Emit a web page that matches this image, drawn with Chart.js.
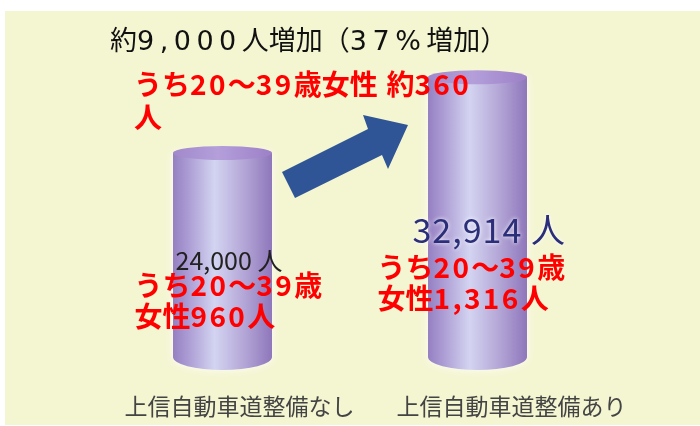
<!DOCTYPE html>
<html>
<head>
<meta charset="utf-8">
<script src="https://cdn.jsdelivr.net/npm/chart.js@4.4.1/dist/chart.umd.min.js"></script>
<style>
  html, body { margin: 0; padding: 0; background: #fff; }
  #wrap { width: 700px; height: 426px; }
</style>
</head>
<body>
<div id="wrap"><canvas id="popChart" width="700" height="426"></canvas></div>
<script>
// values
const categories = ["上信自動車道整備なし", "上信自動車道整備あり"];
const population = [24000, 32914];
const totalLabels = ["24,000 人", "32,914 人"];
const womenLabels = [["うち20～39歳", "女性960人"], ["うち20～39歳", "女性1,316人"]];
const headline = "約9,000人増加（37%増加）";
const womenHeadline = ["うち20～39歳女性 約360", "人"];

const JP = '"Noto Sans CJK JP", "Noto Sans", sans-serif';
const WIDE = '"DejaVu Sans", "Noto Sans CJK JP", sans-serif';

// draw text char by char, adding extra room after ascii chars (the source font has wide digits)
function spacedText(ctx, text, x, y, extra) {
    let cx = x;
    for (const ch of text) {
        ctx.fillText(ch, cx, y);
        cx += ctx.measureText(ch).width + (ch.charCodeAt(0) < 128 ? extra : 0);
    }
}

function drawCylinder(ctx, x, top, base, w) {
    const l = x - w / 2, r = x + w / 2;
    const ryTop = 7, ryBot = 13;
    ctx.save();
    // soft pale halo round the cylinder
    ctx.shadowColor = "rgba(255,255,255,0.9)";
    ctx.shadowBlur = 8;
    const body = ctx.createLinearGradient(l, 0, r, 0);
    body.addColorStop(0, "#9580c2");
    body.addColorStop(0.15, "#ab9bd3");
    body.addColorStop(0.42, "#d3d4f1");
    body.addColorStop(0.7, "#b6a9d8");
    body.addColorStop(1, "#8f77bb");
    ctx.fillStyle = body;
    ctx.beginPath();
    ctx.moveTo(l, top);
    ctx.lineTo(l, base);
    ctx.ellipse(x, base, w / 2, ryBot, 0, Math.PI, 0, true);
    ctx.lineTo(r, top);
    ctx.closePath();
    ctx.fill();
    ctx.shadowBlur = 0;
    const cap = ctx.createLinearGradient(l, 0, r, 0);
    cap.addColorStop(0, "#a188cb");
    cap.addColorStop(0.45, "#b49fda");
    cap.addColorStop(1, "#9d80c8");
    ctx.fillStyle = cap;
    ctx.beginPath();
    ctx.ellipse(x, top, w / 2, ryTop, 0, 0, Math.PI * 2);
    ctx.fill();
    ctx.restore();
}

const backgroundPlugin = {
    id: "panel",
    beforeDraw(chart) {
        const ctx = chart.ctx;
        ctx.save();
        ctx.fillStyle = "#ffffff";
        ctx.fillRect(0, 0, chart.width, chart.height);
        ctx.fillStyle = "#f4f5d1";
        ctx.fillRect(5, 11, chart.width - 5, chart.height - 12);
        ctx.restore();
    }
};

const cylinderPlugin = {
    id: "cylinders",
    afterDatasetsDraw(chart) {
        const ctx = chart.ctx;
        chart.getDatasetMeta(0).data.forEach(bar => {
            drawCylinder(ctx, bar.x, bar.y, bar.base, bar.width);
        });
    }
};

const textPlugin = {
    id: "texts",
    afterDraw(chart) {
        const ctx = chart.ctx;
        const bars = chart.getDatasetMeta(0).data;
        ctx.save();
        ctx.textBaseline = "middle";
        ctx.textAlign = "left";

        // headline
        ctx.fillStyle = "#111111";
        ctx.font = "27px " + WIDE;
        spacedText(ctx, headline, 110, 43, 5.5);

        ctx.fillStyle = "#ff0000";
        ctx.font = "bold 28px " + JP;
        spacedText(ctx, womenHeadline[0], 134, 84, 2.4);
        spacedText(ctx, womenHeadline[1], 134, 117, 2.4);

        // totals on the cylinders
        ctx.fillStyle = "#222222";
        ctx.font = "25px " + JP;
        spacedText(ctx, totalLabels[0], bars[0].x - 47, 260, 0);

        ctx.save();
        ctx.shadowColor = "rgba(255,255,255,0.95)";
        ctx.shadowBlur = 4;
        ctx.fillStyle = "#2b2e78";
        ctx.font = "34px " + JP;
        spacedText(ctx, totalLabels[1], bars[1].x - 65, 230, 1);
        ctx.restore();

        // women 20-39 under the totals
        ctx.fillStyle = "#ff0000";
        ctx.font = "bold 28px " + JP;
        spacedText(ctx, womenLabels[0][0], bars[0].x - 88, 285, 2.4);
        spacedText(ctx, womenLabels[0][1], bars[0].x - 88, 316, 2.4);
        spacedText(ctx, womenLabels[1][0], bars[1].x - 100, 267, 2.4);
        spacedText(ctx, womenLabels[1][1], bars[1].x - 100, 298, 2.4);

        // category names
        ctx.fillStyle = "#444444";
        ctx.font = "23px " + JP;
        ctx.textAlign = "center";
        ctx.fillText(categories[0], bars[0].x + 17, 406);
        ctx.fillText(categories[1], bars[1].x + 34, 406);

        // arrow between the cylinders
        ctx.fillStyle = "#2f5597";
        ctx.beginPath();
        ctx.moveTo(282, 172);
        ctx.lineTo(368, 129);
        ctx.lineTo(363, 115);
        ctx.lineTo(408, 125);
        ctx.lineTo(388, 169);
        ctx.lineTo(382, 155);
        ctx.lineTo(295, 198);
        ctx.closePath();
        ctx.fill();
        ctx.restore();
    }
};

new Chart("popChart", {
    type: "bar",
    data: {
        labels: categories,
        datasets: [{
            data: population,
            backgroundColor: "rgba(0,0,0,0)",
            borderWidth: 0,
            barThickness: 99
        }]
    },
    options: {
        responsive: false,
        devicePixelRatio: 1,
        animation: false,
        layout: { padding: { left: 95, right: 95, top: 17, bottom: 69 } },
        plugins: {
            legend: { display: false },
            tooltip: { enabled: false }
        },
        scales: {
            x: { display: false },
            y: { display: false, min: 0, max: 40000 }
        }
    },
    plugins: [backgroundPlugin, cylinderPlugin, textPlugin]
});
</script>
</body>
</html>
